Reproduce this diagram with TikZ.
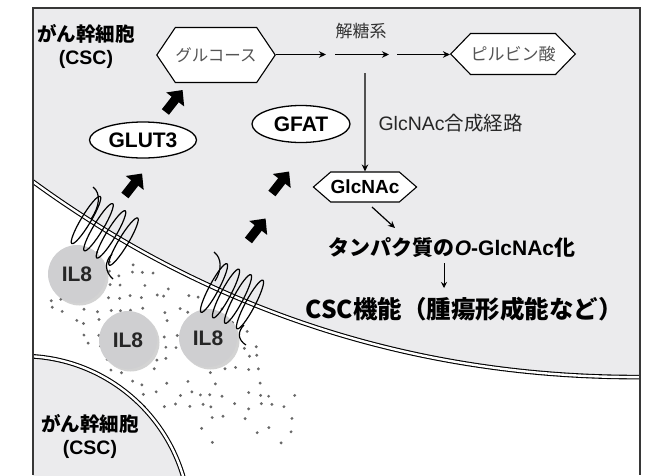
\documentclass[tikz,border=0pt]{standalone}
\usepackage{fontspec}
\setmainfont{Liberation Sans}
\newfontfamily\jpfont{Noto Sans CJK JP}
\usetikzlibrary{shapes.geometric,shapes.symbols,arrows.meta,shadows}
\definecolor{cellgray}{RGB}{235,235,237}
\definecolor{ilgray}{RGB}{207,207,209}
\definecolor{dotgray}{RGB}{105,105,105}
\definecolor{framegray}{RGB}{55,55,55}
\definecolor{textgray}{RGB}{85,85,85}

\begin{document}
\begin{tikzpicture}[x=1pt, y=-1pt, text=black,
    membrane/.style={draw=black, line width=1.1pt, double=white,
      double distance=2.4pt},
    coil/.style={draw=black, line width=1.2pt},
    sugar/.style={shape=signal, signal to=west and east, draw,
      line width=1.1pt, fill=white, inner sep=0pt},
    enzyme/.style={ellipse, draw, line width=1.3pt, fill=white,
      inner sep=0pt, font=\bfseries\fontsize{21}{24}\selectfont},
    il8/.style={circle, fill=ilgray, minimum size=58pt, inner sep=0pt,
      font=\bfseries\fontsize{21}{24}\selectfont, text=black!85,
      drop shadow={shadow xshift=2.5pt, shadow yshift=-2.5pt,
        opacity=0.35, fill=gray}},
    cell/.style={align=center, font=\bfseries\fontsize{19.5}{23}\selectfont},
    flow/.style={line width=1.2pt, -{Stealth[length=7pt,width=6.5pt]}},
    bigarrow/.style={line width=9pt, -{Triangle[length=12pt,width=22pt]}}]
\useasboundingbox (0,0) rectangle (656,475);

% IL8 cloud, cells are painted over it afterwards
\begin{scope}
\clip (33,8) rectangle (640,475);
\pgfmathsetseed{31}
\foreach \gi in {0,...,24}{
  \foreach \gj in {0,...,18}{
    \pgfmathsetmacro{\dotx}{40+11.5*\gi+3*rand}
    \pgfmathsetmacro{\doty}{226+12*\gj+3*rand}
    \pgfmathsetmacro{\dotu}{((\dotx-172)*cos(35)+(\doty-350)*sin(35))/152}
    \pgfmathsetmacro{\dotv}{(-(\dotx-172)*sin(35)+(\doty-350)*cos(35))/64}
    \pgfmathsetmacro{\dotkeep}{(\dotu*\dotu+\dotv*\dotv<1)*(rnd<0.62)}
    \ifdim\dotkeep pt>0.5pt \fill[dotgray] (\dotx,\doty) circle (1.6);\fi
  }
}

% upper cell
\fill[cellgray] (33,8) -- (640,8) -- (640,377)
  .. controls (400,380) and (190,300) .. (33,182) -- cycle;
\path[membrane] (20,172) .. controls (190,300) and (400,380) .. (650,377);

% lower cell
\fill[cellgray] (22,524) circle (168);
\path[membrane] (22,524) circle (168);
\end{scope}

% IL8 molecules
\node (il8a) [il8] at (77,274) {IL8};
\node (il8b) [il8] at (128,340) {IL8};
\node (il8c) [il8] at (208,338) {IL8};

% receptor on the left
\foreach \k in {0,...,3}
  \draw[coil, rotate around={59:(86+12.5*\k,220+7.2*\k)}]
    (86+12.5*\k,220+7.2*\k) ellipse (27.5 and 4.8);
\draw[coil] (93,187) .. controls (101,193) and (100,206) .. (91,219);
\draw[coil] (112,254) .. controls (104,262) and (105,272) .. (113,279);

% receptor on the right
\foreach \k in {0,...,3}
  \draw[coil, rotate around={62:(214+12*\k,288+5.5*\k)}]
    (214+12*\k,288+5.5*\k) ellipse (27.5 and 4.8);
\draw[coil] (214,252) .. controls (222,258) and (222,270) .. (215,281);
\draw[coil] (244,325) .. controls (237,332) and (238,340) .. (246,345);

% cell labels
\node (cscup) [cell] at (86,46) {{\jpfont がん幹細胞}\\(CSC)};
\node (csclow) [cell] at (90,436) {{\jpfont がん幹細胞}\\(CSC)};

% metabolites
\node (glucose) [sugar, signal pointer angle=112, minimum width=100pt,
  minimum height=55pt, text=textgray,
  font=\jpfont\fontsize{16.5}{18}\selectfont] at (216,55) {グルコース};
\node (pyruvate) [sugar, signal pointer angle=92, minimum width=117pt,
  minimum height=41pt, text=textgray,
  font=\jpfont\fontsize{17}{18}\selectfont] at (513,54) {ピルビン酸};
\node (glcnac) [sugar, signal pointer angle=82, minimum width=100pt,
  minimum height=30pt, font=\bfseries\fontsize{19}{20}\selectfont]
  at (365,187) {GlcNAc};

% enzymes
\node (glut3) [enzyme, minimum width=107pt, minimum height=36pt]
  at (143,140) {GLUT3};
\node (gfat) [enzyme, minimum width=98pt, minimum height=37pt]
  at (301,124) {GFAT};

% pathway texts
\node (glycolysis) [text=black!80, font=\jpfont\fontsize{17}{18}\selectfont]
  at (361,31) {解糖系};
\node (hbp) [anchor=west, text=black!85, font=\fontsize{19.5}{22}\selectfont]
  at (375,123) {GlcNAc{\jpfont 合成経路}};
\node (oglc) [font=\bfseries\fontsize{21}{24}\selectfont] at (452,248)
  {{\jpfont タンパク質の}{\itshape O}-GlcNAc{\jpfont 化}};
\node (cscfunc) [font=\jpfont\bfseries\fontsize{24.5}{28}\selectfont]
  at (464,309) {CSC機能（腫瘍形成能など）};

% glycolysis and branch
\coordinate (m1) at (326,54.5);
\coordinate (m2s) at (335,54.5);
\coordinate (m2e) at (389,54.5);
\coordinate (m3s) at (397,54.5);
\coordinate (branch) at (365,73);
\coordinate (d1) at (372,207);
\coordinate (d2) at (395,228);
\coordinate (v1) at (444,263);
\coordinate (v2) at (444,288);
\draw[flow] (glucose.east |- m1) -- (m1);
\draw[flow] (m2s) -- (m2e);
\draw[flow] (m3s) -- (pyruvate.west |- m3s);
\draw[flow] (branch) -- (glcnac);
\draw[flow] (d1) -- (d2);
\draw[line width=0.9pt, -{Stealth[length=6pt,width=6pt]}] (v1) -- (v2);

% signalling arrows
\coordinate (b1s) at (165.4,112);
\coordinate (b1e) at (182.6,90);
\coordinate (b2s) at (124.9,195.5);
\coordinate (b2e) at (142.1,173.5);
\coordinate (b3s) at (271.9,193.5);
\coordinate (b3e) at (289.1,171.5);
\coordinate (b4s) at (248.4,240.5);
\coordinate (b4e) at (265.6,218.5);
\draw[bigarrow] (b1s) -- (b1e);
\draw[bigarrow] (b2s) -- (b2e);
\draw[bigarrow] (b3s) -- (b3e);
\draw[bigarrow] (b4s) -- (b4e);

% frame
\draw[framegray, line width=1.5pt] (33,475) -- (33,8) -- (640,8) -- (640,475);
\end{tikzpicture}
\end{document}
